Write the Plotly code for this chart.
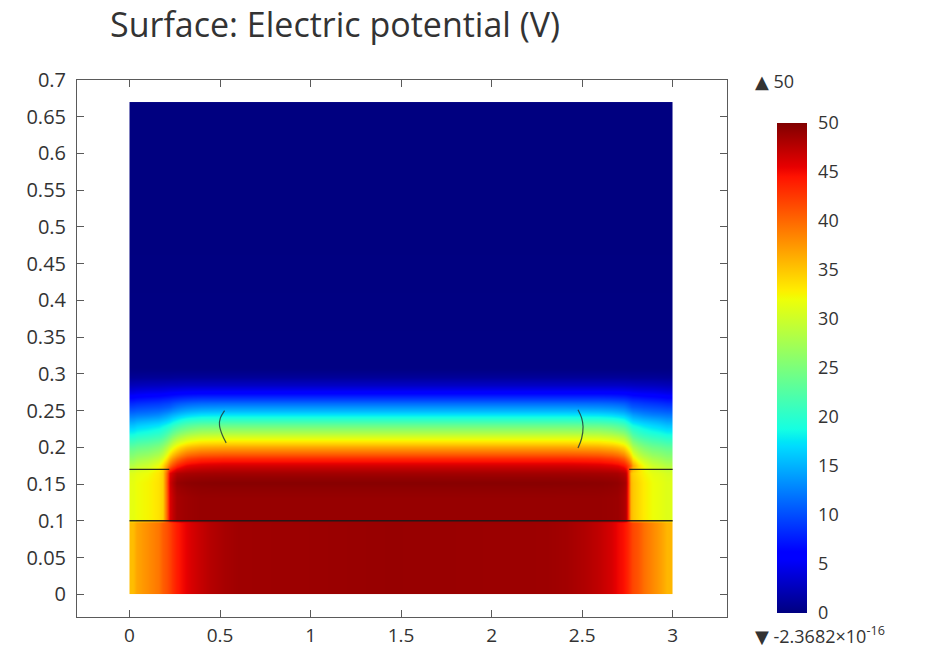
import plotly.graph_objects as go

# ---------------------------------------------------------------
# Sampled electric potential (V) on a tensor grid of cells (m)
# ---------------------------------------------------------------
x_edges = [0, 0.04, 0.16, 0.205, 0.235, 0.28, 0.34, 0.44, 0.6, 2.3,
           2.52, 2.66, 2.73, 2.755, 2.78, 2.84, 2.93, 3.0]
y_edges = [0, 0.02, 0.08, 0.095, 0.1, 0.105, 0.12, 0.145, 0.16, 0.17,
           0.18, 0.19, 0.2, 0.21, 0.22, 0.23, 0.24, 0.25, 0.26, 0.27,
           0.28, 0.29, 0.3, 0.31, 0.67]

# bottom layer (0 - 0.1)
row_bottom = [35.5, 38, 40.5, 42, 44, 45.5, 47, 48.3, 49, 48.5, 47.2, 45.2, 44, 42.5, 41, 38.3, 35.8]
# middle layer (0.1 - 0.17)
row_mid = [31.5, 32.5, 34.5, 46, 48.3, 48.7, 49, 49, 49, 49, 49, 48.8, 47.5, 36, 34, 32, 31]
row_mid_dark = [31.5, 32.5, 34.5, 46.5, 49, 49.4, 49.6, 49.7, 49.7, 49.6, 49.5, 49.2, 48, 36, 34, 32, 31]
row_mid_top = [31, 32, 34.5, 45.5, 47.8, 48.2, 48.4, 48.5, 48.5, 48.5, 48.4, 48.2, 47, 35.5, 33.5, 31.5, 30.5]
# air region above the layers (0.17 - 0.67)
row_175 = [28.5, 30, 34, 40, 43.5, 45.5, 46.2, 46.5, 46.5, 46.5, 46.2, 45.5, 43.5, 40, 34, 30, 28.5]
row_185 = [26.5, 28, 31, 36, 39.5, 42, 43.2, 43.5, 43.5, 43.5, 43.2, 42, 39.5, 36, 31, 28, 26.5]
row_195 = [24.5, 25.5, 28, 32, 35, 37.5, 38.7, 39, 39, 39, 38.7, 37.5, 35, 32, 28, 25.5, 24.5]
row_205 = [22, 23, 25, 28, 31, 33, 34.2, 34.5, 34.5, 34.5, 34.2, 33, 31, 28, 25, 23, 22]
row_215 = [19.5, 20.5, 22, 24.5, 27, 29, 30.2, 30.5, 30.5, 30.5, 30.2, 29, 27, 24.5, 22, 20.5, 19.5]
row_225 = [17, 18, 19.5, 21, 23, 24.5, 25.8, 26, 26, 26, 25.8, 24.5, 23, 21, 19.5, 18, 17]
row_235 = [14.5, 15.5, 16.5, 17.5, 19, 20.5, 21.3, 21.5, 21.5, 21.5, 21.3, 20.5, 19, 17.5, 16.5, 15.5, 14.5]
row_245 = [12, 12.5, 13.5, 14.5, 15.5, 16.5, 17.3, 17.5, 17.5, 17.5, 17.3, 16.5, 15.5, 14.5, 13.5, 12.5, 12]
row_255 = [9.5, 10, 10.5, 11, 12, 12.8, 13.3, 13.5, 13.5, 13.5, 13.3, 12.8, 12, 11, 10.5, 10, 9.5]
row_265 = [7, 7.5, 8, 8.3, 8.8, 9.2, 9.5, 9.5, 9.5, 9.5, 9.5, 9.2, 8.8, 8.3, 8, 7.5, 7]
row_275 = [4.5, 5, 5.2, 5.5, 5.7, 5.9, 6, 6, 6, 6, 6, 5.9, 5.7, 5.5, 5.2, 5, 4.5]
row_285 = [2.5, 2.7, 2.8, 2.9, 2.9, 3, 3, 3, 3, 3, 3, 3, 2.9, 2.9, 2.8, 2.7, 2.5]
row_295 = [1, 1.1, 1.1, 1.1, 1.2, 1.2, 1.2, 1.2, 1.2, 1.2, 1.2, 1.2, 1.2, 1.1, 1.1, 1.1, 1]
row_305 = [0.3, 0.3, 0.3, 0.3, 0.3, 0.3, 0.3, 0.3, 0.3, 0.3, 0.3, 0.3, 0.3, 0.3, 0.3, 0.3, 0.3]
row_top = [0, 0, 0, 0, 0, 0, 0, 0, 0, 0, 0, 0, 0, 0, 0, 0, 0]

potential = [
    row_bottom, row_bottom, row_bottom, row_bottom,
    row_mid, row_mid, row_mid, row_mid_dark, row_mid_top,
    row_175, row_185, row_195, row_205, row_215, row_225, row_235,
    row_245, row_255, row_265, row_275, row_285, row_295, row_305,
    row_top,
]

# geometry boundaries drawn on top of the surface
interface_x = [0, 3]
interface_y = [0.1, 0.1]
step_left_x = [0, 0.22]
step_right_x = [2.76, 3.0]
step_y = [0.17, 0.17]
arc_left_x = [0.525, 0.502, 0.497, 0.512, 0.534]
arc_left_y = [0.250, 0.240, 0.230, 0.217, 0.206]
arc_right_x = [2.477, 2.497, 2.505, 2.497, 2.477]
arc_right_y = [0.251, 0.240, 0.228, 0.212, 0.199]

x_ticks = [0, 0.5, 1, 1.5, 2, 2.5, 3]
x_tick_text = ["0", "0.5", "1", "1.5", "2", "2.5", "3"]
y_ticks = [0, 0.05, 0.1, 0.15, 0.2, 0.25, 0.3, 0.35, 0.4, 0.45,
           0.5, 0.55, 0.6, 0.65, 0.7]
y_tick_text = ["0", "0.05", "0.1", "0.15", "0.2", "0.25", "0.3", "0.35",
               "0.4", "0.45", "0.5", "0.55", "0.6", "0.65", "0.7"]
cbar_ticks = [0, 5, 10, 15, 20, 25, 30, 35, 40, 45, 50]
v_max = 50
v_min_label = "-2.3682×10<sup>-16</sup>"

# rainbow (jet) colour table
jet = [
    [0.0, "rgb(0,0,128)"],
    [0.11, "rgb(0,0,255)"],
    [0.125, "rgb(0,0,255)"],
    [0.34, "rgb(0,219,255)"],
    [0.35, "rgb(0,230,247)"],
    [0.375, "rgb(21,255,226)"],
    [0.64, "rgb(238,255,8)"],
    [0.65, "rgb(247,246,0)"],
    [0.66, "rgb(255,236,0)"],
    [0.89, "rgb(255,19,0)"],
    [0.91, "rgb(232,0,0)"],
    [1.0, "rgb(128,0,0)"],
]

FONT = "Open Sans, DejaVu Sans, sans-serif"
TXT = "#333333"
AX = "#5a5a5a"

# plot frame in page pixels
L, R, T, B = 77, 727, 80, 617
PW, PH = R - L, B - T

fig = go.Figure()

fig.add_trace(go.Heatmap(
    x=x_edges, y=y_edges, z=potential,
    zsmooth="best", colorscale=jet, zmin=0, zmax=v_max,
    hoverinfo="skip",
    colorbar=dict(
        x=(777 - L) / PW, xanchor="left", xpad=0,
        y=(B - 613) / PH, yanchor="bottom", ypad=0,
        len=(613 - 123) / PH, lenmode="fraction",
        thickness=30, outlinewidth=0,
        tickvals=cbar_ticks, ticks="outside", ticklen=8,
        tickcolor="rgba(0,0,0,0)",
        tickfont=dict(family=FONT, size=18, color=TXT),
    ),
))

line_style = dict(color="rgba(25,25,25,0.9)", width=1.3)
for xs, ys in [(interface_x, interface_y), (step_left_x, step_y), (step_right_x, step_y)]:
    fig.add_trace(go.Scatter(x=xs, y=ys, mode="lines", line=line_style,
                             hoverinfo="skip", showlegend=False))
for xs, ys in [(arc_left_x, arc_left_y), (arc_right_x, arc_right_y)]:
    fig.add_trace(go.Scatter(x=xs, y=ys, mode="lines", line_shape="spline",
                             line=dict(color="rgba(30,60,60,0.85)", width=1.2),
                             hoverinfo="skip", showlegend=False))

axis_common = dict(
    showgrid=False, zeroline=False, showline=True, linecolor=AX, linewidth=1,
    mirror="ticks", ticks="inside", ticklen=7, tickwidth=1, tickcolor=AX,
    automargin=False,
)

fig.update_layout(
    width=942, height=649,
    margin=dict(l=L, r=942 - R, t=T, b=649 - B, autoexpand=False),
    paper_bgcolor="white", plot_bgcolor="white",
    showlegend=False,
    title=dict(
        text="Surface: Electric potential (V)",
        x=110 / 942, xanchor="left", xref="container",
        y=1 - 25 / 649, yanchor="middle", yref="container",
        font=dict(family=FONT, size=34, color=TXT),
    ),
    xaxis=dict(range=[-0.29, 3.30], tickvals=x_ticks, ticktext=x_tick_text,
               ticklabelstandoff=1,
               tickfont=dict(family=FONT, size=19, color=TXT), **axis_common),
    yaxis=dict(range=[-0.031, 0.7], tickvals=y_ticks, ticktext=y_tick_text,
               ticklabelstandoff=6,
               tickfont=dict(family=FONT, size=20, color=TXT), **axis_common),
    annotations=[
        dict(text="▲ " + str(v_max), xref="paper", yref="paper",
             x=(753 - L) / PW, y=(B - 81) / PH, xanchor="left", yanchor="middle",
             showarrow=False, font=dict(family=FONT, size=18, color=TXT)),
        dict(text="▼ " + v_min_label, xref="paper", yref="paper",
             x=(753 - L) / PW, y=(B - 635) / PH, xanchor="left", yanchor="middle",
             showarrow=False, font=dict(family=FONT, size=18, color=TXT)),
    ],
)

fig.write_html("out.html")
